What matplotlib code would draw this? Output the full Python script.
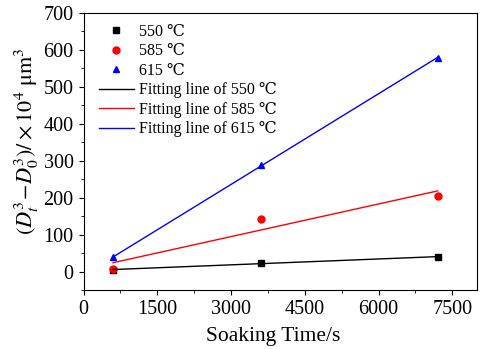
import numpy as np
import matplotlib
matplotlib.use("Agg")
import matplotlib.pyplot as plt
from matplotlib.ticker import MultipleLocator

plt.rcParams['font.family'] = ['Liberation Serif', 'DejaVu Serif']
plt.rcParams['mathtext.fontset'] = 'stix'

time_s = [600, 3600, 7200]
vals_550 = [5, 22, 40]
vals_585 = [7, 143, 204]
vals_615 = [38, 287, 578]
temps = ['550', '585', '615']
colors = ['black', 'red', 'blue']
markers = ['s', 'o', '^']

fig = plt.figure(figsize=(4.81, 3.49), dpi=100)
ax = fig.add_axes([0.1736, 0.169, 0.818, 0.7946])

series = [vals_550, vals_585, vals_615]
for t, v, c, m in zip(temps, series, colors, markers):
    ax.plot(time_s, v, linestyle='none', marker=m, color=c, markersize=5,
            label=f'{t} ℃')
x = np.array(time_s, dtype=float)
for t, v, c in zip(temps, series, colors):
    k, b = np.polyfit(x, v, 1)
    ax.plot(x, k * x + b, color=c, lw=1.0, label=f'Fitting line of {t} ℃')

ax.set_xlim(0, 8000)
ax.set_ylim(-50, 700)
ax.xaxis.set_major_locator(MultipleLocator(1500))
ax.xaxis.set_minor_locator(MultipleLocator(750))
ax.yaxis.set_major_locator(MultipleLocator(100))
ax.yaxis.set_minor_locator(MultipleLocator(50))
ax.tick_params(which='both', direction='out', labelsize=14.5)
ax.tick_params(which='major', length=3.6)
ax.tick_params(which='minor', length=2)
ax.set_xlabel('Soaking Time/s', fontsize=15.5, labelpad=5.5)
ax.set_ylabel(r'$(D_t^3\!-\!D_0^3)/\times10^4\ \mathrm{\mu m}^3$', fontsize=16, labelpad=2)
ax.xaxis.label.set_x(0.481)
ax.yaxis.label.set_y(0.536)
ax.legend(loc='upper left', bbox_to_anchor=(0.01, 1.0), frameon=False,
          fontsize=11.5, handlelength=2.2, handletextpad=0.3,
          labelspacing=0.22, borderaxespad=0.3)

fig.savefig('out.png', dpi=100)
